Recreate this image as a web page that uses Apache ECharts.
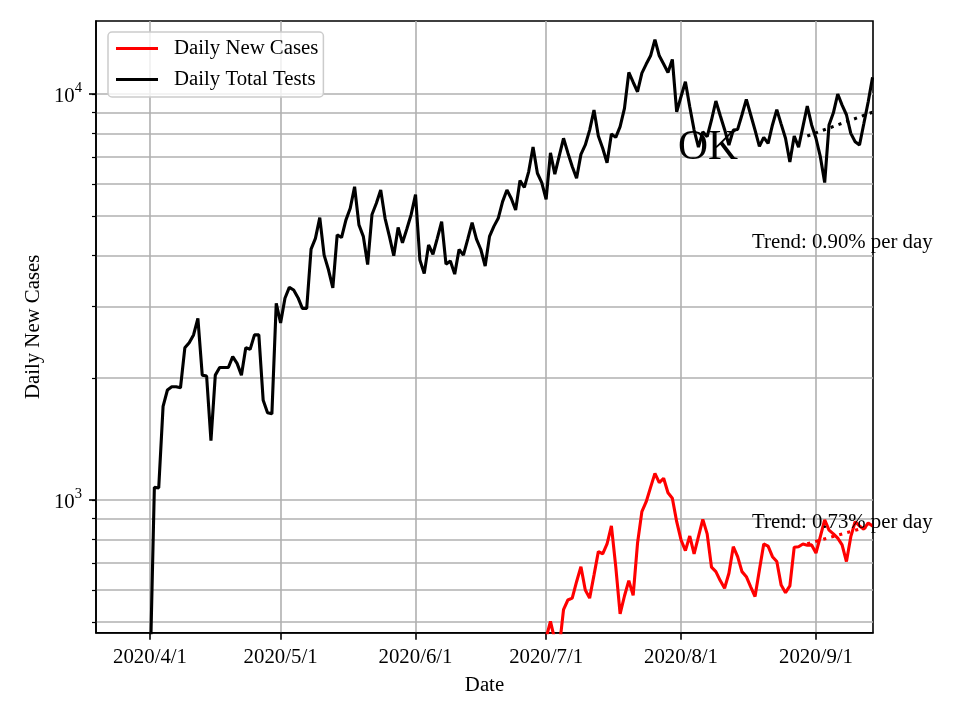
<!DOCTYPE html>
<html><head><meta charset="utf-8">
<script src="https://cdn.jsdelivr.net/npm/echarts@6/dist/echarts.min.js"></script>
<style>html,body{margin:0;padding:0;background:#fff}#c{width:960px;height:720px}</style>
</head><body><div id="c"></div>
<script>
// ---- data ----
const testsStart = [2020, 4, 1];
const testsValues = [
  370, 1075, 1070, 1700, 1866, 1900, 1900, 1890, 2370, 2440, 2550, 2800, 2030, 2020, 1400, 2030,
  2120, 2120, 2120, 2255, 2170, 2030, 2370, 2350, 2550, 2550, 1760, 1640, 1630, 3050,
  2730, 3140, 3340, 3290, 3150, 2965, 2965, 4150, 4410, 4960, 4010, 3690, 3330, 4500, 4430, 4890,
  5230, 5910, 4760, 4460, 3800, 5050, 5380, 5800, 4940, 4460, 3995, 4690, 4300, 4650, 5050,
  5650, 3900, 3610, 4250, 4030, 4410, 4845, 3810, 3880, 3600, 4140, 4010, 4390, 4820, 4390,
  4140, 3770, 4460, 4720, 4940, 5430, 5800, 5530, 5180, 6120, 5890, 6440, 7400, 6380, 6050,
  5500, 7160, 6350, 7030, 7780, 7160, 6630, 6200, 7100, 7490, 8150, 9130, 7880, 7350, 6770, 7970,
  7820, 8310, 9220, 11300, 10690, 10130, 11260, 11850, 12420, 13620, 12420, 11850, 11300, 12170, 9040,
  9860, 10720, 9300, 8150, 7400, 8070, 7850, 8630, 9610, 8850, 8180, 7490, 8150, 8180, 8890,
  9700, 8890, 8150, 7430, 7820, 7560, 8390, 9150, 8430, 7780, 6800, 7880, 7400, 8310, 9340, 8390,
  7780, 7010, 6050, 8390, 8990, 10000, 9390, 8890, 8000, 7630, 7490, 8460, 9570, 10990
];
const casesStart = [2020, 7, 1];
const casesValues = [
  457, 502, 452, 430, 537, 567, 573, 629, 685, 600, 573, 653, 746, 737, 779, 863,
  685, 524, 580, 633, 582, 782, 936, 990, 1074, 1163, 1103, 1131, 1042, 1010, 884,
  797, 750, 815, 737, 812, 896, 825, 683, 666, 633, 606, 660, 767, 725, 666,
  647, 611, 578, 672, 779, 770, 725, 705, 617, 591, 614, 765, 767, 779, 774, 775,
  740, 812, 893, 843, 825, 805, 775, 705, 812, 884, 863, 847, 878, 863
];
const testsTrendDates = ['2020-08-30', '2020-09-14'];
const testsTrendValues = [7880, 9020];
const casesTrendDates = ['2020-08-30', '2020-09-14'];
const casesTrendValues = [780, 866];
const xTickDates = ['2020-04-01', '2020-05-01', '2020-06-01', '2020-07-01', '2020-08-01', '2020-09-01'];
const yMajorTicks = [1000, 10000];
const yMinorTicks = [500, 600, 700, 800, 900, 2000, 3000, 4000, 5000, 6000, 7000, 8000, 9000];
const seriesNames = ['Daily New Cases', 'Daily Total Tests'];
const annotations = ['OK', 'Trend: 0.90% per day', 'Trend: 0.73% per day'];

// ---- helpers ----
const DAY = 86400000;
const F = 'Liberation Serif, Times New Roman, serif';
function ts(y, m, d) { return new Date(y, m - 1, d).getTime(); }
function parseD(s) { const p = s.split('-').map(Number); return ts(p[0], p[1], p[2]); }
function build(start, vals) { return vals.map((v, i) => [ts(start[0], start[1], start[2] + i), v]); }

const testsData = build(testsStart, testsValues);
const casesData = build(casesStart, casesValues);
const testsTrend = testsTrendDates.map((d, i) => [parseD(d), testsTrendValues[i]]);
const casesTrend = casesTrendDates.map((d, i) => [parseD(d), casesTrendValues[i]]);
const xTicks = xTickDates.map(parseD);
const base = ts(2020, 4, 1);
const xMin = base - 12.41 * DAY;
const xMax = base + 166.1 * DAY;
const yMin = 471, yMax = 15130;
const GL = 96, GR = 87, GW = 960 - GL - GR;

const chart = echarts.init(document.getElementById('c'), null, {renderer: 'canvas'});
const yCommon = {type: 'log', logBase: 10, min: yMin, max: yMax};
chart.setOption({
  animation: false,
  backgroundColor: '#fff',
  grid: {left: GL, right: GR, top: 21, bottom: 87.3, show: true, borderColor: '#000', borderWidth: 1.6,
         containLabel: false, outerBoundsMode: 'none'},
  legend: {
    orient: 'vertical', left: 108, top: 32, padding: [6, 5, 7, 8], itemGap: 10,
    itemWidth: 42, itemHeight: 3, icon: 'rect',
    backgroundColor: 'rgba(255,255,255,0.8)', borderColor: '#cccccc', borderWidth: 1.5, borderRadius: 4,
    textStyle: {fontFamily: F, fontSize: 20.8, color: '#000', lineHeight: 21, padding: [0, 0, 0, 11]},
    data: seriesNames
  },
  xAxis: {
    type: 'value', min: xMin, max: xMax,
    axisLine: {show: true, lineStyle: {color: '#000', width: 1.6}},
    axisTick: {show: true, customValues: xTicks, length: 7, lineStyle: {color: '#000', width: 1.6}},
    axisLabel: {customValues: xTicks, margin: 14, hideOverlap: false, fontFamily: F, fontSize: 20.8, color: '#000',
      formatter: function (v) { const d = new Date(v); return d.getFullYear() + '/' + (d.getMonth() + 1) + '/' + d.getDate(); }},
    splitLine: {show: true, lineStyle: {color: '#b0b0b0', width: 1.6}},
    name: 'Date', nameLocation: 'middle', nameGap: 42,
    nameTextStyle: {fontFamily: F, fontSize: 20.8, color: '#000'}
  },
  yAxis: [
    Object.assign({}, yCommon, {
      position: 'left',
      axisLine: {show: true, lineStyle: {color: '#000', width: 1.6}},
      axisTick: {show: true, customValues: yMinorTicks.concat(yMajorTicks), length: 4, lineStyle: {color: '#000', width: 1.2}},
      axisLabel: {show: false},
      splitLine: {show: true, lineStyle: {color: '#b0b0b0', width: 1.6}},
      name: seriesNames[0], nameLocation: 'middle', nameGap: 52,
      nameTextStyle: {fontFamily: F, fontSize: 20.8, color: '#000'}
    }),
    Object.assign({}, yCommon, {
      position: 'right', offset: -GW,
      axisLine: {show: false},
      axisTick: {show: true, inside: true, customValues: yMajorTicks, length: 7, lineStyle: {color: '#000', width: 1.6}},
      axisLabel: {inside: true, customValues: yMajorTicks, margin: 14,
        formatter: function (v) { return '{b|10}{s|' + Math.round(Math.log10(v)) + '}'; },
        rich: {
          b: {fontFamily: F, fontSize: 20.8, color: '#000', padding: [6, 0, 0, 0]},
          s: {fontFamily: F, fontSize: 14.6, color: '#000', verticalAlign: 'top'}
        }},
      splitLine: {show: false}
    })
  ],
  series: [
    {name: seriesNames[0], type: 'line', data: casesData, yAxisIndex: 0, showSymbol: false, symbol: 'none',
     lineStyle: {color: '#ff0000', width: 3.1}, itemStyle: {color: '#ff0000'}, z: 3},
    {name: 'casesTrend', type: 'line', data: casesTrend, yAxisIndex: 0, showSymbol: false, symbol: 'none',
     lineStyle: {color: '#ff0000', width: 3.1, type: [3.1, 5.2], cap: 'butt'}, itemStyle: {color: '#ff0000'}, z: 3},
    {name: seriesNames[1], type: 'line', data: testsData, yAxisIndex: 0, showSymbol: false, symbol: 'none',
     lineStyle: {color: '#000000', width: 3.1}, itemStyle: {color: '#000000'}, z: 4},
    {name: 'testsTrend', type: 'line', data: testsTrend, yAxisIndex: 0, showSymbol: false, symbol: 'none',
     lineStyle: {color: '#000000', width: 3.1, type: [3.1, 5.2], cap: 'butt'}, itemStyle: {color: '#000000'}, z: 4}
  ],
  graphic: [
    {type: 'text', x: 678, y: 148, z: 100, style: {text: annotations[0], fontFamily: F, fontSize: 41.6, fill: '#000', align: 'left', verticalAlign: 'middle'}},
    {type: 'text', x: 752, y: 243, z: 100, style: {text: annotations[1], fontFamily: F, fontSize: 20.8, fill: '#000', align: 'left', verticalAlign: 'middle'}},
    {type: 'text', x: 752, y: 523, z: 100, style: {text: annotations[2], fontFamily: F, fontSize: 20.8, fill: '#000', align: 'left', verticalAlign: 'middle'}}
  ]
});
</script></body></html>
